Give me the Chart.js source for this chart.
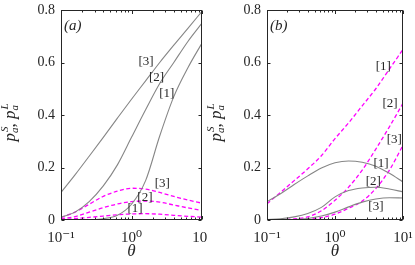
<!DOCTYPE html>
<html><head><meta charset="utf-8">
<script src="https://cdn.jsdelivr.net/npm/chart.js@4.4.1/dist/chart.umd.min.js"></script>
<style>
html,body{margin:0;padding:0;background:#fff;}
#wrap{position:relative;width:415px;height:265px;overflow:hidden;}
.pane{position:absolute;top:0;height:265px;}
</style></head>
<body>
<div id="wrap">
 <div class="pane" style="left:0;width:207px"><canvas id="ca" width="207" height="265"></canvas></div>
 <div class="pane" style="left:207px;width:208px"><canvas id="cb" width="208" height="265"></canvas></div>
</div>
<script>
// ---- data ----
const theta = [0.1, 0.158, 0.251, 0.398, 0.631, 1, 1.585, 2.512, 3.981, 6.31, 10];

// panel (a)
const aGray1 = [0, 0, 0.001, 0.005, 0.018, 0.06, 0.15, 0.32, 0.47, 0.58, 0.674];
const aGray2 = [0.01, 0.03, 0.07, 0.13, 0.21, 0.315, 0.42, 0.52, 0.6, 0.68, 0.75];
const aGray3 = [0.105, 0.172, 0.243, 0.315, 0.388, 0.46, 0.53, 0.6, 0.666, 0.73, 0.795];
const aPink1 = [0.002, 0.005, 0.01, 0.015, 0.02, 0.023, 0.024, 0.022, 0.018, 0.014, 0.011];
const aPink2 = [0.005, 0.013, 0.03, 0.047, 0.061, 0.07, 0.072, 0.068, 0.057, 0.046, 0.036];
const aPink3 = [0.01, 0.03, 0.06, 0.09, 0.11, 0.121, 0.118, 0.105, 0.09, 0.076, 0.064];

// panel (b)
const bGray1 = [0.07, 0.1, 0.135, 0.168, 0.198, 0.218, 0.225, 0.22, 0.205, 0.178, 0.145];
const bGray2 = [0.002, 0.005, 0.012, 0.025, 0.048, 0.088, 0.112, 0.122, 0.125, 0.118, 0.107];
const bGray3 = [0, 0.001, 0.002, 0.006, 0.015, 0.03, 0.05, 0.068, 0.08, 0.085, 0.084];
const bPink1 = [0.062, 0.105, 0.15, 0.195, 0.245, 0.31, 0.37, 0.435, 0.5, 0.575, 0.65];
const bPink2 = [0, 0.001, 0.004, 0.012, 0.035, 0.075, 0.125, 0.19, 0.27, 0.355, 0.445];
const bPink3 = [0, 0, 0.001, 0.003, 0.009, 0.022, 0.045, 0.072, 0.12, 0.19, 0.285];

// axes
const xTicks = [0.1, 1, 10];
const xTickLabels = ['10\u207B\u00B9', '10\u2070', '10\u00B9'];
const yTicks = [0, 0.2, 0.4, 0.6, 0.8];
const yTickLabels = ['0', '0.2', '0.4', '0.6', '0.8'];

// curve labels: [text, theta, value]
const aLabels = [['[3]',1.61,0.605],['[2]',2.27,0.544],['[1]',3.16,0.48],
                 ['[3]',2.74,0.139],['[2]',1.55,0.086],['[1]',1.12,0.042]];
const bLabels = [['[1]',5.13,0.586],['[2]',6.46,0.442],['[3]',7.45,0.305],
                 ['[1]',4.75,0.216],['[2]',3.66,0.146],['[3]',4.0,0.051]];

// ---- styling ----
const GRAY = '#868686';
const PINK = '#ff00ff';
const INK = '#262626';
const SERIF = '"Liberation Serif", "DejaVu Serif", serif';

function pts(vals){ return theta.map((t,i)=>({x:t,y:vals[i]})); }
function gray(v){ return {data:pts(v), borderColor:GRAY, borderWidth:1.1, pointRadius:0, cubicInterpolationMode:'monotone', fill:false}; }
function pink(v){ return {data:pts(v), borderColor:PINK, borderWidth:1.3, borderDash:[4,2.5], pointRadius:0, cubicInterpolationMode:'monotone', fill:false}; }

function makeChart(id, datasets, labels, panel, yWidth, rightPad){
  const deco = {
    id:'deco'+panel,
    afterDraw(chart){
      const ctx = chart.ctx, a = chart.chartArea, xs = chart.scales.x, ys = chart.scales.y;
      ctx.save();
      ctx.strokeStyle = INK; ctx.lineWidth = 1;
      const L = Math.round(a.left)+0.5, R = Math.round(a.right)-0.5, T = Math.round(a.top)+0.5, B = Math.round(a.bottom)-0.5;
      ctx.strokeRect(L, T, R-L, B-T);
      ctx.beginPath();
      yTicks.forEach(v=>{ const p = Math.round(ys.getPixelForValue(v))+0.5;
        ctx.moveTo(L,p); ctx.lineTo(L+3,p); ctx.moveTo(R,p); ctx.lineTo(R-3,p); });
      [0.1,1].forEach(dec=>{ for(let k=1;k<=10;k++){ const v=dec*k; if(v>10) continue;
        const p = Math.round(xs.getPixelForValue(v))+0.5; const len = (k===1||k===10)?3.5:2;
        ctx.moveTo(p,B); ctx.lineTo(p,B-len); ctx.moveTo(p,T); ctx.lineTo(p,T+len); }});
      ctx.stroke();
      ctx.fillStyle = INK; ctx.font = 'italic 15px '+SERIF; ctx.textBaseline='alphabetic'; ctx.textAlign='left';
      ctx.fillText('('+panel+')', a.left+3, a.top+20);
      ctx.font = '13px '+SERIF; ctx.textAlign='center'; ctx.textBaseline='middle';
      labels.forEach(l=>{ ctx.fillText(l[0], xs.getPixelForValue(l[1]), ys.getPixelForValue(l[2])); });
      ctx.font = 'italic 17px '+SERIF; ctx.textBaseline='alphabetic';
      ctx.fillText('\u03B8', (a.left+a.right)/2, 256);
      // y axis label p_a^S, p_a^L rotated
      ctx.translate(a.left-46, (a.top+a.bottom)/2+8);
      ctx.rotate(-Math.PI/2);
      const parts = [['p','i',17,0],['a','i',11,3],['S','i',11,-7],[', ','n',17,0],['p','i',17,0],['a','i',11,3],['L','i',11,-7]];
      ctx.textAlign='left';
      let x = 0; const placed=[];
      for(let i=0;i<parts.length;i++){ const [t,st,sz,dy]=parts[i];
        ctx.font = (st==='i'?'italic ':'')+sz+'px '+SERIF;
        const tw = ctx.measureText(t).width;
        if(dy<0 && i>0 && parts[i-1][3]>0){ const px = placed[placed.length-1][4]; placed.push([t,st,sz,dy,px]); x = Math.max(x, px+tw); }
        else { placed.push([t,st,sz,dy,x]); x += tw; }
      }
      const off = -x/2;
      placed.forEach(([t,st,sz,dy,px])=>{ ctx.font=(st==='i'?'italic ':'')+sz+'px '+SERIF; ctx.fillText(t, off+px+(dy<0?1:0), dy); });
      ctx.restore();
    }
  };
  return new Chart(document.getElementById(id), {
    type:'line',
    data:{datasets},
    options:{
      responsive:false, animation:false, events:[],
      layout:{padding:{left:0,right:rightPad,top:10,bottom:0}},
      plugins:{legend:{display:false}, tooltip:{enabled:false}},
      scales:{
        x:{type:'logarithmic', min:0.1, max:10,
           grid:{display:false, drawTicks:false}, border:{display:false},
           afterBuildTicks(s){ s.ticks = xTicks.map(v=>({value:v, major:true})); },
           afterFit(s){ s.height = 45; s.paddingLeft=0; s.paddingRight=0; },
           ticks:{autoSkip:false, maxRotation:0, padding:9, color:INK, font:{family:SERIF,size:15},
             callback(v){ const i = xTicks.indexOf(v); return i>=0 ? xTickLabels[i] : ''; }}},
        y:{type:'linear', min:0, max:0.8,
           grid:{display:false, drawTicks:false}, border:{display:false},
           afterBuildTicks(s){ s.ticks = yTicks.map(v=>({value:v})); },
           afterFit(s){ s.width = yWidth; s.paddingTop=0; s.paddingBottom=0; },
           ticks:{padding:6, color:INK, font:{family:SERIF,size:14},
             callback(v){ const i = yTicks.findIndex(t=>Math.abs(t-v)<1e-9); return i>=0 ? yTickLabels[i] : ''; }}}
      }
    },
    plugins:[deco]
  });
}

makeChart('ca', [gray(aGray1),gray(aGray2),gray(aGray3),pink(aPink1),pink(aPink2),pink(aPink3)], aLabels, 'a', 61, 5);
makeChart('cb', [gray(bGray1),gray(bGray2),gray(bGray3),pink(bPink1),pink(bPink2),pink(bPink3)], bLabels, 'b', 60, 12);
</script>
</body></html>
